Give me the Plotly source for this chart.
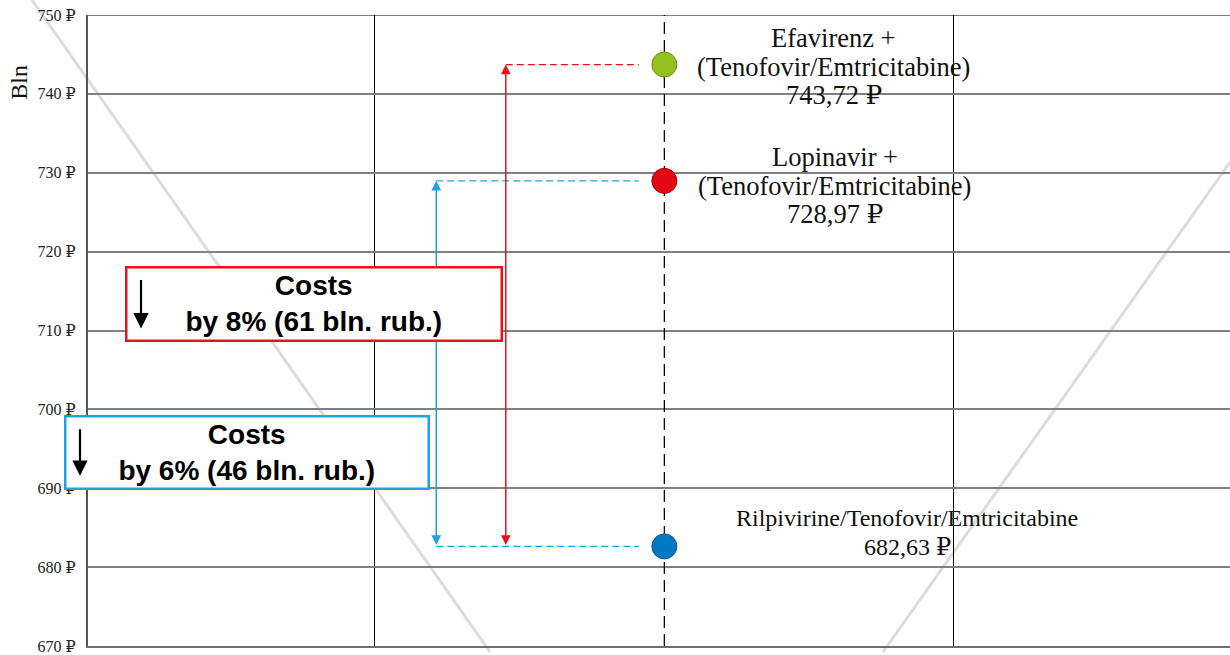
import plotly.graph_objects as go

# ---------------- data ----------------
regimens = [
    "Efavirenz + (Tenofovir/Emtricitabine)",
    "Lopinavir + (Tenofovir/Emtricitabine)",
    "Rilpivirine/Tenofovir/Emtricitabine",
]
label_lines = [
    ["Efavirenz +", "(Tenofovir/Emtricitabine)", "743,72 ₽"],
    ["Lopinavir +", "(Tenofovir/Emtricitabine)", "728,97 ₽"],
    ["Rilpivirine/Tenofovir/Emtricitabine", "682,63 ₽"],
]
costs = [743.72, 728.97, 682.63]
point_x = [2, 2, 2]
point_colors = ["#93C01F", "#E30613", "#0079C2"]
point_outline = ["#6B8E1A", "#A8000E", "#005A96"]

y_ticks = [670, 680, 690, 700, 710, 720, 730, 740, 750]
y_ticktext = [f"{v} ₽" for v in y_ticks]
dark_grid_levels = [750, 730, 680]
x_grid = [1, 3]

# comparisons: (from regimen, to regimen, arrow x position, colour, box text)
comp_from = [0, 1]
comp_to = [2, 2]
comp_x = [1.4525, 1.2124]
comp_colors = ["#E8121C", "#1BA3E2"]
comp_text = ["Costs<br>by 8% (61 bln. rub.)", "Costs<br>by 6% (46 bln. rub.)"]
connector_end_x = 1.912

# label placement (dy in pixels, positive = down)
label_x = [2.585, 2.589, 2.838]
label_dy = [2, 5, -14]
label_size = [26.5, 26.5, 24]
line_step = 28.5

# ---------------- geometry helpers (layout in pixels) ----------------
W, H = 1230, 655
L, R, T, B = 88, 1230, 15, 649


def xp(px):
    return (px - L) / (R - L)


def yp(py):
    return (B - py) / (B - T)


SERIF = "Liberation Serif, DejaVu Serif, serif"
SANS = "Liberation Sans, Arial, sans-serif"

fig = go.Figure()

# central dashed guide at the treatments' x
fig.add_trace(go.Scatter(
    x=[point_x[0], point_x[0]], y=[y_ticks[0], y_ticks[-1]], mode="lines",
    line=dict(color="black", width=1.3, dash="12px,6px"),
    hoverinfo="skip", showlegend=False))

# dashed connectors from points to comparison arrows
for f, t, ax_x, c in zip(comp_from, comp_to, comp_x, comp_colors):
    fig.add_trace(go.Scatter(
        x=[ax_x, connector_end_x], y=[costs[f], costs[f]], mode="lines",
        line=dict(color=c, width=1.2, dash="7px,4px"),
        hoverinfo="skip", showlegend=False))
# bottom connector (shared target) drawn from the widest comparison
fig.add_trace(go.Scatter(
    x=[min(comp_x), connector_end_x], y=[costs[2], costs[2]], mode="lines",
    line=dict(color=comp_colors[1], width=1.2, dash="7px,4px"),
    hoverinfo="skip", showlegend=False))

# points
fig.add_trace(go.Scatter(
    x=point_x, y=costs, mode="markers", text=regimens,
    marker=dict(size=25, color=point_colors,
                line=dict(color=point_outline, width=1)),
    showlegend=False))

shapes = []
# decorative light diagonal lines (background)
for (x0, y0, x1, y1) in [(32, 0, 490, 655), (883, 655, 1230, 163)]:
    shapes.append(dict(type="line", xref="paper", yref="paper",
                       x0=xp(x0), y0=yp(y0), x1=xp(x1), y1=yp(y1),
                       line=dict(color="#DCDCDC", width=3), layer="below"))
for v in dark_grid_levels:
    shapes.append(dict(type="line", xref="paper", yref="y", x0=0, x1=1,
                       y0=v, y1=v, line=dict(color="black", width=1.2),
                       layer="between"))

annotations = []
# comparison arrows
for f, t, ax_x, c in zip(comp_from, comp_to, comp_x, comp_colors):
    annotations.append(dict(
        x=ax_x, y=costs[f], ax=ax_x, ay=costs[t], xref="x", yref="y",
        axref="x", ayref="y", showarrow=True, arrowhead=2,
        arrowside="end+start", arrowsize=1.3, arrowwidth=1.5,
        arrowcolor=c, text="", standoff=0, startstandoff=0))

# point labels
for i, lines in enumerate(label_lines):
    n = len(lines)
    for j, s in enumerate(lines):
        annotations.append(dict(
            x=label_x[i], y=costs[i], xref="x", yref="y", text=s,
            showarrow=False, xanchor="center", yanchor="middle",
            yshift=-label_dy[i] - (j - (n - 1) / 2) * line_step,
            font=dict(family=SERIF, size=label_size[i], color="#111")))

# y-axis title
annotations.append(dict(
    x=xp(19), y=yp(83), xref="paper", yref="paper", text="Bln",
    textangle=-90, showarrow=False, xanchor="center", yanchor="middle",
    font=dict(family=SERIF, size=24, color="#111")))

# boxes
box_px = [(125, 267, 375, 73), (64, 417, 363, 72)]
for (bx, by, bw, bh), c, s in zip(box_px, comp_colors, comp_text):
    annotations.append(dict(
        x=xp(bx), y=yp(by), xref="paper", yref="paper",
        xanchor="left", yanchor="top",
        text="<b>" + s.replace("<br>", "</b><br><b>") + "</b>",
        showarrow=False, width=bw - 2.5, height=bh - 2.5,
        bgcolor="white", bordercolor=c, borderwidth=2.5, borderpad=0,
        align="center", valign="middle",
        font=dict(family=SANS, size=28, color="black")))

# down-arrows inside boxes
for (tx, ty, length) in [(141, 330, 50), (80, 478, 48)]:
    annotations.append(dict(
        x=xp(tx), y=yp(ty), xref="paper", yref="paper", ax=0, ay=-length,
        showarrow=True, arrowhead=2, arrowsize=1.4, arrowwidth=2.2,
        arrowcolor="black", text="", standoff=0))

fig.update_layout(
    width=W, height=H,
    margin=dict(l=L, r=W - R, t=T, b=H - B),
    paper_bgcolor="white", plot_bgcolor="rgba(0,0,0,0)",
    shapes=shapes, annotations=annotations, showlegend=False,
    xaxis=dict(range=[0.01, 3.953], tickvals=x_grid, showticklabels=False,
               showgrid=True, gridcolor="black", gridwidth=1,
               zeroline=False, showline=True, linecolor="#6d6d6d",
               linewidth=2, ticks=""),
    yaxis=dict(range=[y_ticks[0], y_ticks[-1]], tickvals=y_ticks,
               ticktext=y_ticktext, showgrid=True, gridcolor="#808080",
               gridwidth=1.5, zeroline=False, showline=True,
               linecolor="#555", linewidth=2, ticks="",
               ticklabelstandoff=7, ticklabeloverflow="allow",
               tickfont=dict(family=SERIF, size=16, color="#222")),
)

fig.write_html(
    "out.html",
    config={"displayModeBar": False},
    post_script="document.body.style.margin='0';document.body.style.overflow='hidden';",
)
